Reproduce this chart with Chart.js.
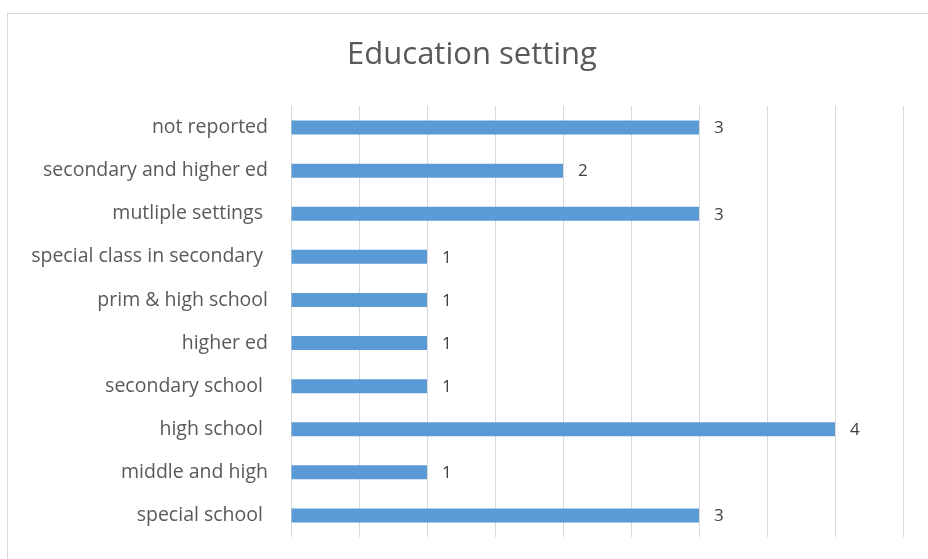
<!DOCTYPE html>
<html lang="en">
<head>
  <meta charset="UTF-8" />
  <title>Education setting</title>
  <script src="https://cdn.jsdelivr.net/npm/chart.js@4.4.0/dist/chart.umd.min.js"></script>
  <style>
    html, body { margin: 0; padding: 0; background: #fff; overflow: hidden; }
    .frame {
      position: absolute; left: 7px; top: 13px; width: 940px; height: 560px;
      border: 1px solid #d9d9d9; box-sizing: border-box;
    }
    .wrap { position: absolute; left: 0; top: 0; width: 928px; height: 559px; }
  </style>
</head>
<body>
  <div class="frame"></div>
  <div class="wrap"><canvas id="chart"></canvas></div>

  <script>
    // Categories top to bottom, as they appear in the picture
    const categories = [
      'not reported',
      'secondary and higher ed',
      'mutliple settings ',
      'special class in secondary ',
      'prim & high school',
      'higher ed',
      'secondary school ',
      'high school ',
      'middle and high',
      'special school '
    ];
    const counts = [3, 2, 3, 1, 1, 1, 1, 4, 1, 3];
    const chartTitle = 'Education setting';

    const FONT = "'Open Sans', 'Liberation Sans', sans-serif";

    // value labels to the right of each bar
    const valueLabels = {
      id: 'valueLabels',
      afterDatasetsDraw(chart) {
        const ctx = chart.ctx;
        const meta = chart.getDatasetMeta(0);
        ctx.save();
        ctx.font = '17px ' + FONT;
        ctx.fillStyle = '#404040';
        ctx.textBaseline = 'middle';
        ctx.textAlign = 'left';
        meta.data.forEach((bar, i) => {
          ctx.fillText(String(counts[i]), bar.x + 15, bar.y + 1);
        });
        ctx.restore();
      }
    };

    // title centred on the outer frame rather than the canvas
    const frameTitle = {
      id: 'frameTitle',
      afterDraw(chart) {
        const ctx = chart.ctx;
        ctx.save();
        ctx.font = '31px ' + FONT;
        ctx.fillStyle = '#595959';
        ctx.textAlign = 'center';
        ctx.textBaseline = 'middle';
        ctx.fillText(chartTitle, 472, 55);
        ctx.restore();
      }
    };

    new Chart(document.getElementById('chart'), {
      type: 'bar',
      data: {
        labels: categories,
        datasets: [{
          data: counts,
          backgroundColor: '#5b9bd5',
          borderWidth: 0,
          categoryPercentage: 0.65,
          barPercentage: 0.5
        }]
      },
      options: {
        indexAxis: 'y',
        responsive: true,
        maintainAspectRatio: false,
        animation: false,
        layout: { padding: { left: 0, right: 25, top: 106, bottom: 22 } },
        plugins: {
          legend: { display: false },
          tooltip: { enabled: false },
          title: { display: false }
        },
        scales: {
          x: {
            min: 0,
            max: 4.5,
            ticks: { stepSize: 0.5, display: false },
            grid: { color: '#d9d9d9', drawTicks: false },
            border: { display: false },
            afterFit(scale) { scale.height = 0; }
          },
          y: {
            grid: { display: false },
            border: { display: false },
            ticks: {
              color: '#595959',
              font: { family: FONT, size: 19.5 },
              padding: 15
            },
            afterFit(scale) {
              scale.width = 291;
              scale.paddingTop = 0;
              scale.paddingBottom = 0;
            }
          }
        }
      },
      plugins: [valueLabels, frameTitle]
    });
  </script>
</body>
</html>
